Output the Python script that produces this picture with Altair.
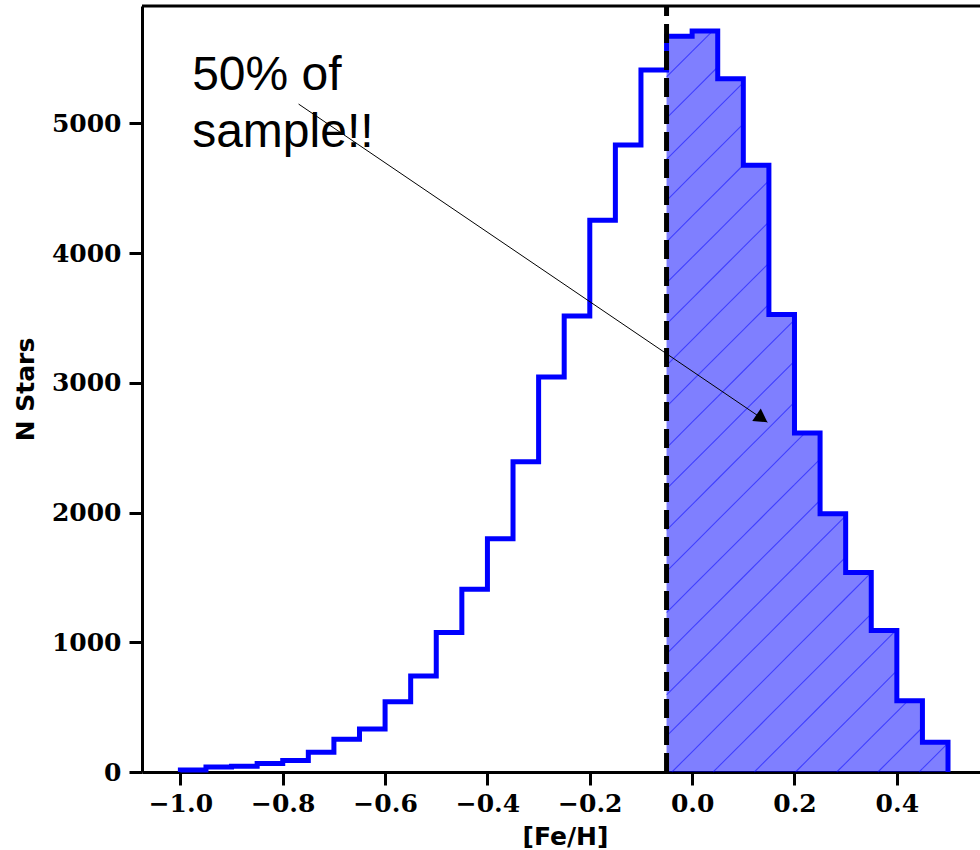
import math
import altair as alt
import pandas as pd

# ---------------- data ----------------
BIN_EDGES = [-1.00, -0.95, -0.90, -0.85, -0.80, -0.75, -0.70, -0.65, -0.60, -0.55,
             -0.50, -0.45, -0.40, -0.35, -0.30, -0.25, -0.20, -0.15, -0.10, -0.05,
             0.00, 0.05, 0.10, 0.15, 0.20, 0.25, 0.30, 0.35, 0.40, 0.45, 0.50]
COUNTS = [15, 38, 44, 65, 88, 152, 253, 332, 541, 740,
          1076, 1409, 1798, 2392, 3045, 3516, 4254, 4833, 5411, 5672,
          5712, 5345, 4678, 3526, 2613, 1991, 1538, 1090, 550, 229]
CUT = -0.05
X_TICKS = [-1.0, -0.8, -0.6, -0.4, -0.2, 0.0, 0.2, 0.4]
Y_TICKS = [0, 1000, 2000, 3000, 4000, 5000]
X_TITLE = "[Fe/H]"
Y_TITLE = "N Stars"
NOTE_TEXT = "50% of\nsample!!"
NOTE_XY = (-0.977, 5257)
ARROW_FROM = (-0.769, 5149)
ARROW_TIP = (0.147, 2697)

# ---------------- layout / style ----------------
X_DOMAIN = [-1.075, 0.5625]
Y_DOMAIN = [0, 5905]
W, H = 838, 766
BLUE = "#0000ff"
HATCH_SPACING_PX = 41.2
HATCH_X0 = -0.0395   # where one hatch line meets the baseline
HEAD_SIZE = 230

SX = W / (X_DOMAIN[1] - X_DOMAIN[0])   # px per x unit
SY = H / (Y_DOMAIN[1] - Y_DOMAIN[0])   # px per y unit

xscale = alt.Scale(domain=X_DOMAIN, nice=False, zero=False)
yscale = alt.Scale(domain=Y_DOMAIN, nice=False, zero=False)

xaxis = alt.Axis(values=X_TICKS, format=".1f", grid=False, labelFlush=False,
                 labelFont="DejaVu Serif", labelFontWeight="bold", labelFontSize=25,
                 labelColor="black", labelPadding=6, tickSize=13, tickWidth=3,
                 tickColor="black", domainWidth=3, domainColor="black",
                 title=X_TITLE, titleFont="DejaVu Sans", titleFontWeight="bold",
                 titleFontSize=25, titleColor="black", titleX=423, titleY=72,
                 titleBaseline="alphabetic", titleAlign="center")
yaxis = alt.Axis(values=Y_TICKS, format="d", grid=False,
                 labelFont="DejaVu Serif", labelFontWeight="bold", labelFontSize=25,
                 labelColor="black", labelPadding=8, tickSize=13, tickWidth=3,
                 tickColor="black", domainWidth=3, domainColor="black",
                 title=Y_TITLE, titleFont="DejaVu Sans", titleFontWeight="bold",
                 titleFontSize=25, titleColor="black", titleX=-109, titleY=H / 2,
                 titleAngle=270, titleBaseline="alphabetic", titleAlign="center")


def X(f):
    return alt.X(f, type="quantitative", scale=xscale, axis=xaxis)


def Y(f):
    return alt.Y(f, type="quantitative", scale=yscale, axis=yaxis)


# outline (step histogram)
pts = [(BIN_EDGES[0], 0)]
for i, c in enumerate(COUNTS):
    pts.append((BIN_EDGES[i], c))
    pts.append((BIN_EDGES[i + 1], c))
pts.append((BIN_EDGES[-1], 0))
outline_df = pd.DataFrame({"x": [p[0] for p in pts], "y": [p[1] for p in pts],
                           "o": list(range(len(pts)))})

# filled part (>= CUT)
fill_idx = [i for i in range(len(COUNTS)) if BIN_EDGES[i] >= CUT - 1e-9]
fill_df = pd.DataFrame({
    "x": [BIN_EDGES[i] for i in fill_idx] + [BIN_EDGES[fill_idx[-1] + 1]],
    "y": [COUNTS[i] for i in fill_idx] + [COUNTS[fill_idx[-1]]],
})

# hatch segments clipped to each filled bin
step_data = HATCH_SPACING_PX / SX
hrows = []
for k in range(-60, 40):
    c = HATCH_X0 + k * step_data
    for i in fill_idx:
        xl, xr, h = BIN_EDGES[i], BIN_EDGES[i + 1], COUNTS[i]
        xs = max(xl, c)
        xe = min(xr, c + h * SY / SX)
        if xe > xs + 1e-9:
            hrows.append({"x": xs, "y": (xs - c) * SX / SY,
                          "x2": xe, "y2": (xe - c) * SX / SY})
hatch_df = pd.DataFrame(hrows)

# arrow head geometry
dxp = (ARROW_TIP[0] - ARROW_FROM[0]) * SX
dyp = -(ARROW_TIP[1] - ARROW_FROM[1]) * SY   # screen y down
L = math.hypot(dxp, dyp)
ux, uy = dxp / L, dyp / L
half_h = math.sqrt(3) / 2 * math.sqrt(HEAD_SIZE) / 2
head_x = ARROW_TIP[0] - half_h * ux / SX
head_y = ARROW_TIP[1] + half_h * uy / SY
head_angle = math.degrees(math.atan2(ux, -uy)) % 360

# ---------------- layers ----------------
fill = alt.Chart(fill_df).mark_area(interpolate="step-after", color=BLUE,
                                    opacity=0.5).encode(x=X("x"), y=Y("y"))

hatch = alt.Chart(hatch_df).mark_rule(color=BLUE, opacity=0.5, strokeWidth=1.1).encode(
    x=X("x"), y=Y("y"), x2="x2:Q", y2="y2:Q",
)

outline = alt.Chart(outline_df).mark_line(color=BLUE, strokeWidth=5,
                                          strokeJoin="miter", strokeCap="butt").encode(
    x=X("x"), y=Y("y"), order="o:Q",
)

cut_df = pd.DataFrame({"x": [CUT], "y": [Y_DOMAIN[0]], "y2": [Y_DOMAIN[1]]})
cutline = alt.Chart(cut_df).mark_rule(color="black", strokeWidth=5,
                                      strokeDash=[19, 8]).encode(
    x=X("x"), y=Y("y"), y2="y2:Q",
)

top_df = pd.DataFrame({"y": [Y_DOMAIN[1]]})
topspine = alt.Chart(top_df).mark_rule(color="black", strokeWidth=3).encode(y=Y("y"))

arrow_df = pd.DataFrame({"x": [ARROW_FROM[0]], "y": [ARROW_FROM[1]],
                         "x2": [ARROW_TIP[0]], "y2": [ARROW_TIP[1]]})
arrow = alt.Chart(arrow_df).mark_rule(color="black", strokeWidth=1).encode(
    x=X("x"), y=Y("y"), x2="x2:Q", y2="y2:Q",
)
head_df = pd.DataFrame({"x": [head_x], "y": [head_y]})
head = alt.Chart(head_df).mark_point(shape="triangle-up", filled=True, color="black",
                                     opacity=1, size=HEAD_SIZE, angle=head_angle,
                                     strokeWidth=0).encode(x=X("x"), y=Y("y"))

note_df = pd.DataFrame({"x": [NOTE_XY[0]], "y": [NOTE_XY[1]], "t": [NOTE_TEXT]})
note = alt.Chart(note_df).mark_text(align="left", baseline="alphabetic",
                                    font="Liberation Sans", fontSize=48,
                                    lineHeight=57, lineBreak="\n",
                                    color="black").encode(
    x=X("x"), y=Y("y"), text="t:N",
)

chart = alt.layer(fill, hatch, outline, cutline, topspine, arrow, head, note).properties(
    width=W, height=H,
    autosize=alt.AutoSizeParams(type="none"),
    padding={"left": 142, "top": 6, "right": 0, "bottom": 78},
    background="white",
).configure_view(stroke=None)

chart.save("out.html", embed_options={"renderer": "svg", "actions": False})
